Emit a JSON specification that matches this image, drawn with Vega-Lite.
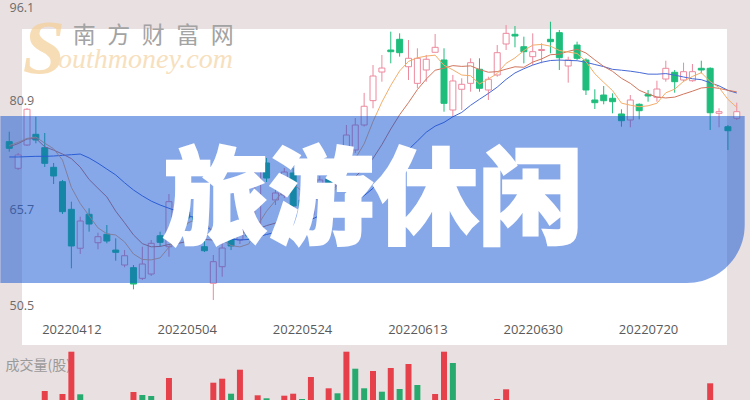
{
"$schema": "https://vega.github.io/schema/vega-lite/v6.json",
"width": 705, "height": 316,
"autosize": {"type": "none"},
"padding": {"left": 22, "top": 29, "right": 23, "bottom": 55},
"background": "#e9e0e1",
"config": {"view": {"fill": "#ffffff", "stroke": null}, "axis": {"grid": false, "domain": false, "ticks": false, "tickSize": 0}},
"datasets": {"kline": [
{"i":0,"date":"20220330","o":75.49,"c":74.48,"h":77.02,"l":73.96,"dir":"down","ma5":74.9,"ma10":74.7,"ma20":73.15},
{"i":1,"date":"20220331","o":71.42,"c":73.45,"h":73.76,"l":71.16,"dir":"up","ma5":75.4,"ma10":75.2,"ma20":73.15},
{"i":2,"date":"20220401","o":74.98,"c":80.45,"h":80.64,"l":74.83,"dir":"up","ma5":76.0,"ma10":75.9,"ma20":73.2},
{"i":3,"date":"20220406","o":76.62,"c":75.75,"h":79.31,"l":75.24,"dir":"down","ma5":76.2,"ma10":76.0,"ma20":73.25},
{"i":4,"date":"20220407","o":74.57,"c":72.18,"h":76.82,"l":71.62,"dir":"down","ma5":75.26,"ma10":74.7,"ma20":73.25,"vol":90000,"vd":"up"},
{"i":5,"date":"20220408","o":71.57,"c":70.24,"h":72.23,"l":69.01,"dir":"down","ma5":74.41,"ma10":74.2,"ma20":73.3},
{"i":6,"date":"20220411","o":69.37,"c":64.78,"h":69.63,"l":64.43,"dir":"down","ma5":72.68,"ma10":73.6,"ma20":73.4,"vol":60000,"vd":"up"},
{"i":7,"date":"20220412","o":65.14,"c":59.53,"h":66.31,"l":56.11,"dir":"down","ma5":68.5,"ma10":72.9,"ma20":73.5,"vol":483000,"vd":"up"},
{"i":8,"date":"20220413","o":59.18,"c":63.35,"h":64.01,"l":58.31,"dir":"up","ma5":66.02,"ma10":71.6,"ma20":73.6,"vol":57000,"vd":"down"},
{"i":9,"date":"20220414","o":64.38,"c":62.89,"h":65.3,"l":61.72,"dir":"down","ma5":64.16,"ma10":69.71,"ma20":73.0},
{"i":10,"date":"20220415","o":60.03,"c":60.95,"h":61.56,"l":59.02,"dir":"up","ma5":62.3,"ma10":68.36,"ma20":72.2},
{"i":11,"date":"20220418","o":61.32,"c":60.29,"h":62.74,"l":59.94,"dir":"down","ma5":61.4,"ma10":67.04,"ma20":71.3},
{"i":12,"date":"20220419","o":58.91,"c":58.56,"h":60.7,"l":57.28,"dir":"down","ma5":61.21,"ma10":64.85,"ma20":70.4},
{"i":13,"date":"20220420","o":56.62,"c":58.04,"h":58.91,"l":56.27,"dir":"up","ma5":60.15,"ma10":63.08,"ma20":69.2},
{"i":14,"date":"20220421","o":56.21,"c":53.71,"h":56.62,"l":52.9,"dir":"down","ma5":58.31,"ma10":61.23,"ma20":68.1,"vol":80000,"vd":"up"},
{"i":15,"date":"20220422","o":54.58,"c":56.77,"h":59.42,"l":54.32,"dir":"up","ma5":57.47,"ma10":59.89,"ma20":67.2,"vol":50000,"vd":"down"},
{"i":16,"date":"20220425","o":55.24,"c":59.94,"h":60.45,"l":54.94,"dir":"up","ma5":57.4,"ma10":59.4,"ma20":66.4,"vol":40000,"vd":"down"},
{"i":17,"date":"20220426","o":61.1,"c":60.09,"h":61.72,"l":59.42,"dir":"down","ma5":57.71,"ma10":59.46,"ma20":65.8},
{"i":18,"date":"20220427","o":59.42,"c":66.31,"h":67.48,"l":57.89,"dir":"up","ma5":59.36,"ma10":59.76,"ma20":65.3,"vol":220000,"vd":"up"},
{"i":19,"date":"20220428","o":65.8,"c":64.58,"h":66.87,"l":63.51,"dir":"down","ma5":61.54,"ma10":59.92,"ma20":64.82},
{"i":20,"date":"20220504","o":64.73,"c":63.81,"h":65.8,"l":62.74,"dir":"down","ma5":62.95,"ma10":60.21,"ma20":64.28},
{"i":21,"date":"20220505","o":64.01,"c":63.25,"h":65.04,"l":62.28,"dir":"down","ma5":63.61,"ma10":60.51,"ma20":63.77},
{"i":22,"date":"20220506","o":59.42,"c":58.81,"h":60.45,"l":58.61,"dir":"down","ma5":63.35,"ma10":60.53,"ma20":62.69},
{"i":23,"date":"20220509","o":53.82,"c":57.13,"h":58.15,"l":51.26,"dir":"up","ma5":61.52,"ma10":60.44,"ma20":61.76,"vol":173000,"vd":"up"},
{"i":24,"date":"20220510","o":56.36,"c":59.22,"h":60.75,"l":54.83,"dir":"up","ma5":60.44,"ma10":60.99,"ma20":61.11,"vol":213000,"vd":"up"},
{"i":25,"date":"20220511","o":61.06,"c":59.53,"h":62.28,"l":58.91,"dir":"down","ma5":59.59,"ma10":61.27,"ma20":60.58,"vol":63000,"vd":"down"},
{"i":26,"date":"20220512","o":60.45,"c":62.28,"h":63.2,"l":59.83,"dir":"up","ma5":59.39,"ma10":61.5,"ma20":60.45,"vol":303000,"vd":"up"},
{"i":27,"date":"20220513","o":62.59,"c":61.06,"h":63.51,"l":60.45,"dir":"down","ma5":59.84,"ma10":61.6,"ma20":60.53},
{"i":28,"date":"20220516","o":61.67,"c":71.46,"h":72.69,"l":61.06,"dir":"up","ma5":62.71,"ma10":62.11,"ma20":60.93,"vol":47000,"vd":"up"},
{"i":29,"date":"20220517","o":72.23,"c":69.93,"h":72.99,"l":69.32,"dir":"down","ma5":64.85,"ma10":62.65,"ma20":61.29,"vol":17000,"vd":"down"},
{"i":30,"date":"20220518","o":66.57,"c":67.64,"h":68.4,"l":65.8,"dir":"up","ma5":66.47,"ma10":63.03,"ma20":61.62},
{"i":31,"date":"20220519","o":67.33,"c":70.85,"h":71.46,"l":66.87,"dir":"up","ma5":68.19,"ma10":63.79,"ma20":62.15,"vol":43000,"vd":"up"},
{"i":32,"date":"20220520","o":70.7,"c":65.65,"h":71.46,"l":65.04,"dir":"down","ma5":69.11,"ma10":64.48,"ma20":62.5,"vol":63000,"vd":"up"},
{"i":33,"date":"20220524","o":66.57,"c":65.34,"h":67.33,"l":64.27,"dir":"down","ma5":67.88,"ma10":65.3,"ma20":62.87,"vol":10000,"vd":"down"},
{"i":34,"date":"20220525","o":64.27,"c":67.33,"h":68.1,"l":63.81,"dir":"up","ma5":67.36,"ma10":66.11,"ma20":63.55,"vol":230000,"vd":"up"},
{"i":35,"date":"20220526","o":67.33,"c":69.63,"h":70.24,"l":66.87,"dir":"up","ma5":67.76,"ma10":67.12,"ma20":64.19},
{"i":36,"date":"20220527","o":69.93,"c":68.4,"h":70.85,"l":67.33,"dir":"down","ma5":67.27,"ma10":67.73,"ma20":64.62,"vol":117000,"vd":"up"},
{"i":37,"date":"20220530","o":68.86,"c":71.92,"h":72.69,"l":68.1,"dir":"up","ma5":68.52,"ma10":68.82,"ma20":65.21,"vol":67000,"vd":"down"},
{"i":38,"date":"20220531","o":74.22,"c":76.51,"h":78.04,"l":73.76,"dir":"up","ma5":70.76,"ma10":69.32,"ma20":65.72,"vol":483000,"vd":"up"},
{"i":39,"date":"20220601","o":74.22,"c":78.04,"h":79.11,"l":73.76,"dir":"up","ma5":72.9,"ma10":70.13,"ma20":66.39,"vol":313000,"vd":"down"},
{"i":40,"date":"20220602","o":78.04,"c":80.91,"h":82.96,"l":77.81,"dir":"up","ma5":75.16,"ma10":71.46,"ma20":67.24,"vol":117000,"vd":"down"},
{"i":41,"date":"20220606","o":81.77,"c":85.54,"h":87.22,"l":80.6,"dir":"up","ma5":78.58,"ma10":72.93,"ma20":68.36,"vol":290000,"vd":"up"},
{"i":42,"date":"20220607","o":86.15,"c":86.76,"h":88.76,"l":84.67,"dir":"up","ma5":81.55,"ma10":75.04,"ma20":69.76,"vol":83000,"vd":"down"},
{"i":43,"date":"20220608","o":89.52,"c":89.26,"h":92.32,"l":87.48,"dir":"down","ma5":84.1,"ma10":77.43,"ma20":71.36,"vol":320000,"vd":"up"},
{"i":44,"date":"20220609","o":91.16,"c":89.11,"h":92.07,"l":88.5,"dir":"down","ma5":86.32,"ma10":79.61,"ma20":72.86,"vol":110000,"vd":"down"},
{"i":45,"date":"20220610","o":86.96,"c":88.25,"h":91.05,"l":84.93,"dir":"up","ma5":87.78,"ma10":81.47,"ma20":74.29,"vol":360000,"vd":"up"},
{"i":46,"date":"20220613","o":84.42,"c":88.25,"h":89.78,"l":83.66,"dir":"up","ma5":88.33,"ma10":83.46,"ma20":75.59,"vol":150000,"vd":"down"},
{"i":47,"date":"20220614","o":86.46,"c":88.1,"h":88.76,"l":84.67,"dir":"up","ma5":88.59,"ma10":85.07,"ma20":76.94},
{"i":48,"date":"20220615","o":89.17,"c":89.93,"h":91.97,"l":89.17,"dir":"up","ma5":88.73,"ma10":86.42,"ma20":77.87,"vol":60000,"vd":"up"},
{"i":49,"date":"20220616","o":87.99,"c":81.36,"h":89.78,"l":80.08,"dir":"down","ma5":87.18,"ma10":86.75,"ma20":78.44,"vol":483000,"vd":"up"},
{"i":50,"date":"20220617","o":80.34,"c":84.78,"h":85.71,"l":79.31,"dir":"up","ma5":86.48,"ma10":87.13,"ma20":79.3,"vol":370000,"vd":"down"},
{"i":51,"date":"20220620","o":83.51,"c":84.27,"h":85.19,"l":80.34,"dir":"up","ma5":85.69,"ma10":87.01,"ma20":79.97},
{"i":52,"date":"20220621","o":84.42,"c":87.58,"h":88.25,"l":83.14,"dir":"up","ma5":85.58,"ma10":87.09,"ma20":81.06},
{"i":53,"date":"20220622","o":86.57,"c":83.66,"h":88.25,"l":83.14,"dir":"down","ma5":84.33,"ma10":86.53,"ma20":81.98},
{"i":54,"date":"20220623","o":83.4,"c":85.04,"h":85.43,"l":81.87,"dir":"up","ma5":85.07,"ma10":86.12,"ma20":82.87},
{"i":55,"date":"20220624","o":85.69,"c":89.11,"h":90.28,"l":85.43,"dir":"up","ma5":85.93,"ma10":86.21,"ma20":83.84,"vol":10000,"vd":"up"},
{"i":56,"date":"20220627","o":90.44,"c":92.07,"h":93.34,"l":89.52,"dir":"up","ma5":87.49,"ma10":86.59,"ma20":85.02,"vol":107000,"vd":"up"},
{"i":57,"date":"20220628","o":91.92,"c":91.66,"h":93.19,"l":89.93,"dir":"down","ma5":88.31,"ma10":86.95,"ma20":86.01},
{"i":58,"date":"20220629","o":90.02,"c":89.26,"h":91.56,"l":87.48,"dir":"down","ma5":89.43,"ma10":86.88,"ma20":86.65},
{"i":59,"date":"20220630","o":88.5,"c":89.26,"h":92.07,"l":87.22,"dir":"up","ma5":90.27,"ma10":87.67,"ma20":87.21},
{"i":60,"date":"20220701","o":89.44,"c":89.6,"h":90.55,"l":87.48,"dir":"up","ma5":90.37,"ma10":88.15,"ma20":87.64},
{"i":61,"date":"20220704","o":91.16,"c":90.79,"h":93.85,"l":89.01,"dir":"down","ma5":90.11,"ma10":88.8,"ma20":87.91},
{"i":62,"date":"20220705","o":92.17,"c":88.34,"h":92.58,"l":86.46,"dir":"down","ma5":89.45,"ma10":88.88,"ma20":87.98},
{"i":63,"date":"20220706","o":87.07,"c":87.99,"h":88.49,"l":84.52,"dir":"up","ma5":89.2,"ma10":89.31,"ma20":87.92},
{"i":64,"date":"20220707","o":90.28,"c":88.25,"h":90.79,"l":87.99,"dir":"down","ma5":88.99,"ma10":89.63,"ma20":87.88},
{"i":65,"date":"20220708","o":87.99,"c":83.4,"h":88.25,"l":82.63,"dir":"down","ma5":87.75,"ma10":89.06,"ma20":87.64},
{"i":66,"date":"20220711","o":81.87,"c":81.46,"h":83.51,"l":80.49,"dir":"down","ma5":85.89,"ma10":88.0,"ma20":87.3},
{"i":67,"date":"20220712","o":82.63,"c":81.76,"h":84.01,"l":81.21,"dir":"down","ma5":84.57,"ma10":87.01,"ma20":86.98},
{"i":68,"date":"20220713","o":82.13,"c":81.61,"h":82.89,"l":79.83,"dir":"down","ma5":83.3,"ma10":86.25,"ma20":86.56},
{"i":69,"date":"20220714","o":79.73,"c":78.7,"h":80.45,"l":77.78,"dir":"down","ma5":81.39,"ma10":85.19,"ma20":86.43},
{"i":70,"date":"20220715","o":78.81,"c":81.87,"h":82.63,"l":77.69,"dir":"up","ma5":81.08,"ma10":84.42,"ma20":86.28},
{"i":71,"date":"20220718","o":81.21,"c":80.23,"h":81.36,"l":78.91,"dir":"down","ma5":80.83,"ma10":83.36,"ma20":86.08},
{"i":72,"date":"20220720","o":82.74,"c":82.48,"h":83.4,"l":81.61,"dir":"down","ma5":80.98,"ma10":82.78,"ma20":85.83},
{"i":73,"date":"20220721","o":82.28,"c":83.55,"h":84.82,"l":81.61,"dir":"up","ma5":81.37,"ma10":82.33,"ma20":85.82},
{"i":74,"date":"20220722","o":85.08,"c":86.72,"h":87.88,"l":84.67,"dir":"up","ma5":82.97,"ma10":82.18,"ma20":85.91},
{"i":75,"date":"20220725","o":86.11,"c":84.67,"h":86.46,"l":82.99,"dir":"down","ma5":83.53,"ma10":82.31,"ma20":85.68},
{"i":76,"date":"20220726","o":84.93,"c":86.2,"h":87.58,"l":84.67,"dir":"up","ma5":84.72,"ma10":82.78,"ma20":85.39},
{"i":77,"date":"20220727","o":84.82,"c":86.2,"h":87.38,"l":84.67,"dir":"up","ma5":85.47,"ma10":83.22,"ma20":85.12},
{"i":78,"date":"20220728","o":86.72,"c":86.46,"h":87.88,"l":85.95,"dir":"down","ma5":86.05,"ma10":83.71,"ma20":84.98},
{"i":79,"date":"20220729","o":86.72,"c":79.92,"h":86.87,"l":77.28,"dir":"down","ma5":84.69,"ma10":83.83,"ma20":84.51,"vol":167000,"vd":"up"},
{"i":80,"date":"20220801","o":79.83,"c":80.08,"h":80.6,"l":77.69,"dir":"up","ma5":83.77,"ma10":83.65,"ma20":84.03},
{"i":81,"date":"20220802","o":77.78,"c":77.17,"h":78.04,"l":74.22,"dir":"down","ma5":81.97,"ma10":83.35,"ma20":83.35},
{"i":82,"date":"20220803","o":79.07,"c":80.08,"h":81.46,"l":78.81,"dir":"up","ma5":80.74,"ma10":83.11,"ma20":82.94}
]},
"resolve": {"scale": {"y": "independent"}},
"layer": [
{
"data": {"name": "kline"},
"mark": {"type": "bar"},
"encoding": {
"x": {"field": "i", "type": "quantitative", "title": null, "scale": {"domain": [2, 80.3333], "nice": false, "zero": false},
"axis": {"orient": "bottom", "offset": -24, "values": [7, 20, 33, 46, 59, 72], "labelExpr": "datum.value==7?'20220412':datum.value==20?'20220504':datum.value==33?'20220524':datum.value==46?'20220613':datum.value==59?'20220630':'20220720'", "labelFont": "Open Sans", "labelFontSize": 13, "labelColor": "#5a5a5a", "labelPadding": 2, "labelBaseline": "top", "labelFlush": false, "labelOverlap": false, "title": null}},
"y": {"field": "vol", "type": "quantitative", "scale": {"domain": [0, 1000000], "range": [371, 271], "nice": false},
"axis": {"orient": "left", "labels": false, "title": "成交量(股)", "titleAngle": 0, "titleAlign": "left", "titleBaseline": "middle", "titleX": -17, "titleY": 336, "titleFont": "Noto Sans CJK SC", "titleFontSize": 14, "titleFontWeight": "normal", "titleColor": "#9a9a9a"}},
"color": {"field": "vd", "type": "nominal", "scale": {"domain": ["up", "down"], "range": ["#e6414b", "#28aa6e"]}, "legend": null},
"size": {"value": 6}
}
},
{
"layer": [
{
"data": {"values": [{"t": "S"}]},
"mark": {"type": "text", "font": "Liberation Serif", "fontStyle": "italic", "fontWeight": "bold", "fontSize": 76, "align": "center", "baseline": "alphabetic", "color": "#f5cf96", "opacity": 0.7},
"encoding": {"text": {"field": "t"}, "x": {"datum": 3.9, "type": "quantitative"}, "y": {"datum": 86.0, "type": "quantitative"}}
},
{
"data": {"values": [{"t": "outhmoney.com"}]},
"mark": {"type": "text", "font": "Liberation Serif", "fontStyle": "italic", "fontSize": 28, "align": "left", "baseline": "alphabetic", "color": "#f7e0bd"},
"encoding": {"text": {"field": "t"}, "x": {"datum": 5.5, "type": "quantitative"}, "y": {"datum": 86.77, "type": "quantitative"}}
},
{
"data": {"values": [{"t": "南\u2002方\u2002财\u2002富\u2002网"}]},
"mark": {"type": "text", "font": "Noto Sans CJK SC", "fontSize": 23, "align": "center", "baseline": "middle", "color": "#a3a3a3"},
"encoding": {"text": {"field": "t"}, "x": {"datum": 16.22, "type": "quantitative"}, "y": {"datum": 91.66, "type": "quantitative"}}
},
{
"data": {"name": "kline"},
"mark": {"type": "rule", "strokeWidth": 1},
"encoding": {
"x": {"field": "i", "type": "quantitative", "title": null},
"y": {"field": "l", "type": "quantitative", "title": null, "scale": {"domain": [50.5, 96.1], "range": [276, -22], "nice": false, "zero": false},
"axis": {"orient": "left", "values": [50.5, 65.7, 80.9, 96.1], "format": ".1f", "labelAlign": "left", "labelBaseline": "middle", "labelPadding": 13, "labelFont": "Open Sans", "labelFontSize": 12.5, "labelColor": "#6b6b6b", "labelFlush": false, "labelOverlap": false, "title": null,
"labelOffset": {"condition": [{"test": "datum.value == 80.9", "value": -6}, {"test": "datum.value == 65.7", "value": 4}], "value": 0}}},
"y2": {"field": "h"},
"stroke": {"field": "dir", "type": "nominal", "scale": {"domain": ["up", "down"], "range": ["#ec8a9e", "#1ebd7c"]}, "legend": null}
}
},
{
"data": {"name": "kline"},
"mark": {"type": "bar", "strokeWidth": 1},
"encoding": {
"x": {"field": "i", "type": "quantitative", "title": null},
"y": {"field": "o", "type": "quantitative", "title": null},
"y2": {"field": "c"},
"fill": {"field": "dir", "type": "nominal", "scale": {"domain": ["up", "down"], "range": ["#ffffff", "#1ebd7c"]}, "legend": null},
"stroke": {"field": "dir", "type": "nominal", "legend": null},
"size": {"value": 6}
}
},
{
"data": {"name": "kline"},
"mark": {"type": "line", "strokeWidth": 1, "color": "#4769d6"},
"encoding": {"x": {"field": "i", "type": "quantitative", "title": null}, "y": {"field": "ma20", "type": "quantitative", "title": null}}
},
{
"data": {"name": "kline"},
"mark": {"type": "line", "strokeWidth": 1, "color": "#d0765e"},
"encoding": {"x": {"field": "i", "type": "quantitative", "title": null}, "y": {"field": "ma10", "type": "quantitative", "title": null}}
},
{
"data": {"name": "kline"},
"mark": {"type": "line", "strokeWidth": 1, "color": "#f4ad6a"},
"encoding": {"x": {"field": "i", "type": "quantitative", "title": null}, "y": {"field": "ma5", "type": "quantitative", "title": null}}
},
{
"data": {"values": [{"t": "banner"}]},
"mark": {"type": "rect", "color": "#0d4fd1", "opacity": 0.5, "cornerRadiusBottomRight": 58},
"encoding": {"x": {"datum": -1, "type": "quantitative"}, "x2": {"datum": 82.889}, "y": {"datum": 79.42, "type": "quantitative"}, "y2": {"datum": 53.87}}
},
{
"data": {"values": [{"t": "旅游休闲"}]},
"mark": {"type": "text", "font": "Noto Sans CJK SC", "fontWeight": 900, "fontSize": 105, "align": "center", "baseline": "middle", "color": "#ffffff", "stroke": "#ffffff", "strokeWidth": 2.5},
"encoding": {"text": {"field": "t"}, "x": {"datum": 41.06, "type": "quantitative"}, "y": {"datum": 66.1, "type": "quantitative"}}
}
]
}
]
}
